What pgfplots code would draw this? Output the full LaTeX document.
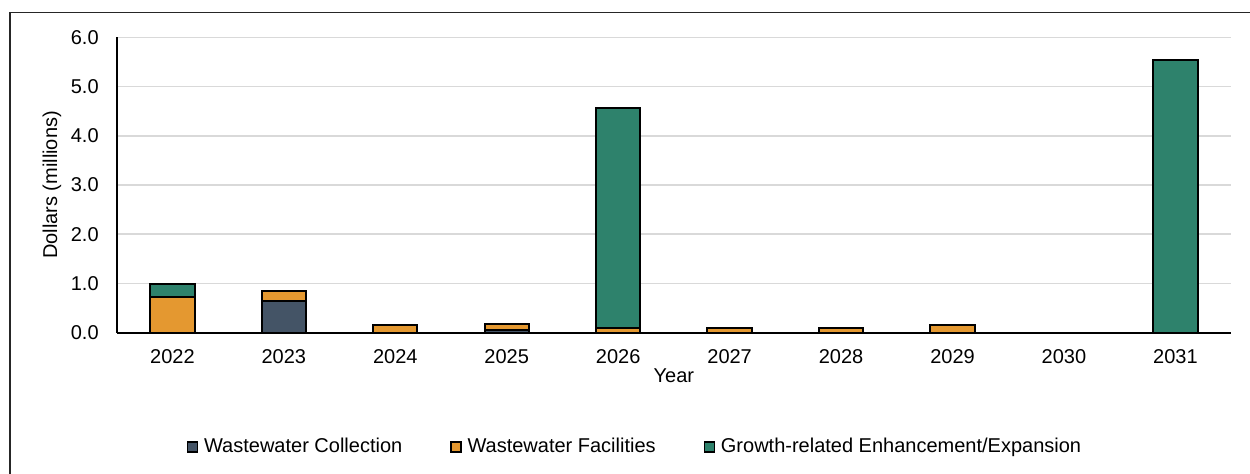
\documentclass[border=0pt]{standalone}
\usepackage{pgfplots}
\pgfplotsset{compat=1.18}
\usepackage{fontspec}
\setmainfont{Liberation Sans}
\definecolor{cCol}{RGB}{68,84,102}
\definecolor{cFac}{RGB}{228,152,48}
\definecolor{cGro}{RGB}{46,130,108}
\definecolor{cGrid}{RGB}{217,217,217}
\pgfplotstableread{
x col fac gro
0 0    0.73 0.26
1 0.64 0.21 0
2 0    0.155 0
3 0.06 0.11 0
4 0    0.09 4.48
5 0    0.095 0
6 0    0.095 0
7 0    0.16 0
8 0    0    0
9 0    0    5.53
}\datatable
\begin{document}
\begin{tikzpicture}
\begin{axis}[
  at={(0pt,0pt)}, anchor=south west,
  scale only axis, width=557.2pt, height=147.7pt,
  ybar stacked, bar width=22.15pt,
  xmin=-0.5, xmax=9.5, ymin=0, ymax=6,
  xtick={0,...,9},
  xticklabels={2022,2023,2024,2025,2026,2027,2028,2029,2030,2031},
  ytick={0,1,...,6},
  yticklabel style={anchor=east, xshift=-5.5pt, /pgf/number format/.cd,fixed,fixed zerofill,precision=1},
  xticklabel style={anchor=center, yshift=-12.15pt},
  /pgf/number format/assume math mode=true,
  tick style={draw=none}, major tick length=0pt,
  axis x line*=bottom, axis y line*=left,
  axis line style={black, line width=1pt},
  x axis line style={-}, y axis line style={-},
  ymajorgrids, grid style={cGrid, line width=0.75pt},
  font=\fontsize{10pt}{12pt}\selectfont,
  ticklabel style={font=\fontsize{10pt}{12pt}\selectfont},
  xlabel={Year}, ylabel={Dollars (millions)},
  every axis x label/.style={at={(axis description cs:0.5,0)}, anchor=center, yshift=-21.5pt},
  every axis y label/.style={at={(axis description cs:-0.05806,0.5)}, anchor=center, rotate=90},
  legend style={at={(axis description cs:0.466,0)}, yshift=-57.15pt, anchor=center, draw=none,
    legend columns=3, font=\fontsize{10pt}{12pt}\selectfont, inner sep=0pt,
    /tikz/every odd column/.append style={column sep=1pt},
    /tikz/every even column/.append style={column sep=22pt}},
  legend image code/.code={\draw[#1, draw=black, line width=0.6pt] (0pt,-2.5pt) rectangle (5pt,2.5pt);},
]
\addplot[fill=cCol, draw=black, line width=1pt] table[x=x,y=col]{\datatable};
\addplot[fill=cFac, draw=black, line width=1pt] table[x=x,y=fac]{\datatable};
\addplot[fill=cGro, draw=black, line width=1pt] table[x=x,y=gro]{\datatable};
\legend{Wastewater Collection, Wastewater Facilities, Growth-related Enhancement/Expansion}
\end{axis}
\pgfresetboundingbox
\path[use as bounding box] (-58.35pt,-70.15pt) rectangle (566.65pt,166.35pt);
\draw[black!85, line width=0.75pt] (-53.35pt,-75pt) -- (-53.35pt,160.2pt) -- (575pt,160.2pt);
\end{tikzpicture}
\end{document}
